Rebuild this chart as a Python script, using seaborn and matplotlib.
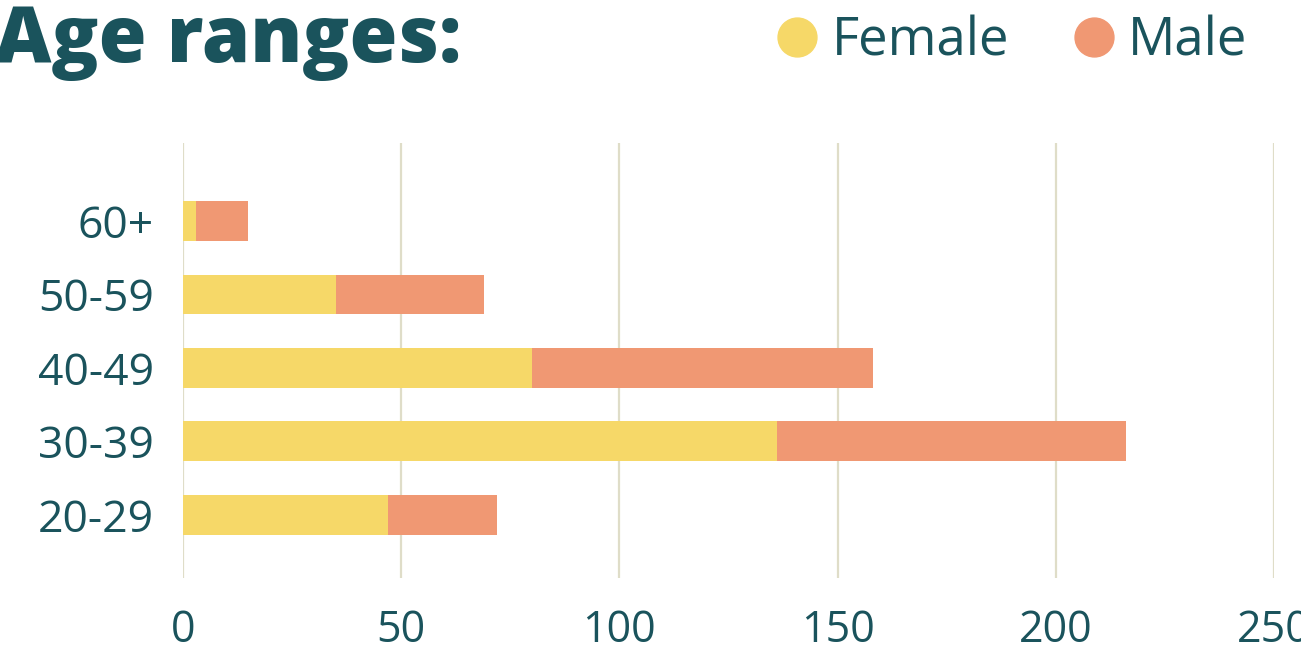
import pandas as pd
import matplotlib.pyplot as plt
import seaborn as sns
from matplotlib.lines import Line2D

# data
ages = ['60+', '50-59', '40-49', '30-39', '20-29']
female = [3, 35, 80, 136, 47]
male = [12, 34, 78, 80, 25]

teal = '#1a535c'
yellow = '#f6d868'
salmon = '#f09873'
grid_col = '#dfddc8'

df = pd.DataFrame({'age': ages, 'Female': female, 'Male': male})
df['Total'] = df['Female'] + df['Male']

sns.set_style('white')
plt.rcParams['font.family'] = ['Open Sans', 'DejaVu Sans']

fig = plt.figure(figsize=(13.01, 6.55), dpi=100)
ax = fig.add_axes([183 / 1301, 77 / 655, 1091 / 1301, 435 / 655])

# stacked: total in salmon underneath, female in yellow on top
sns.barplot(data=df, y='age', x='Total', color=salmon, orient='h', linewidth=0,
            width=0.54, saturation=1, ax=ax, order=ages)
sns.barplot(data=df, y='age', x='Female', color=yellow, orient='h', linewidth=0,
            width=0.54, saturation=1, ax=ax, order=ages)

ax.set_xlim(0, 250)
ax.set_ylim(4.86, -1.06)
ax.set_xticks([0, 50, 100, 150, 200, 250])
ax.set_xlabel('')
ax.set_ylabel('')
ax.grid(axis='x', color=grid_col, linewidth=1.6)
ax.set_axisbelow(True)
sns.despine(ax=ax, left=True, bottom=True)
ax.tick_params(axis='y', length=0, pad=21, labelsize=32, labelcolor=teal)
ax.tick_params(axis='x', length=0, pad=22, labelsize=31, labelcolor=teal)

fig.text(-0.004, 0.905, 'Age ranges:', fontsize=56, fontweight='heavy',
         color=teal, va='baseline', ha='left')

handles = [Line2D([], [], marker='o', linestyle='', markersize=28,
                  markerfacecolor=c, markeredgecolor=c, label=l)
           for c, l in [(yellow, 'Female'), (salmon, 'Male')]]
leg = fig.legend(handles=handles, loc='center right', ncol=2,
                 bbox_to_anchor=(0.975, 0.937), frameon=False,
                 fontsize=38, handletextpad=0.05, columnspacing=1.0,
                 handlelength=1.2, borderaxespad=0)
for t in leg.get_texts():
    t.set_color(teal)

fig.savefig('out.png', dpi=100)
